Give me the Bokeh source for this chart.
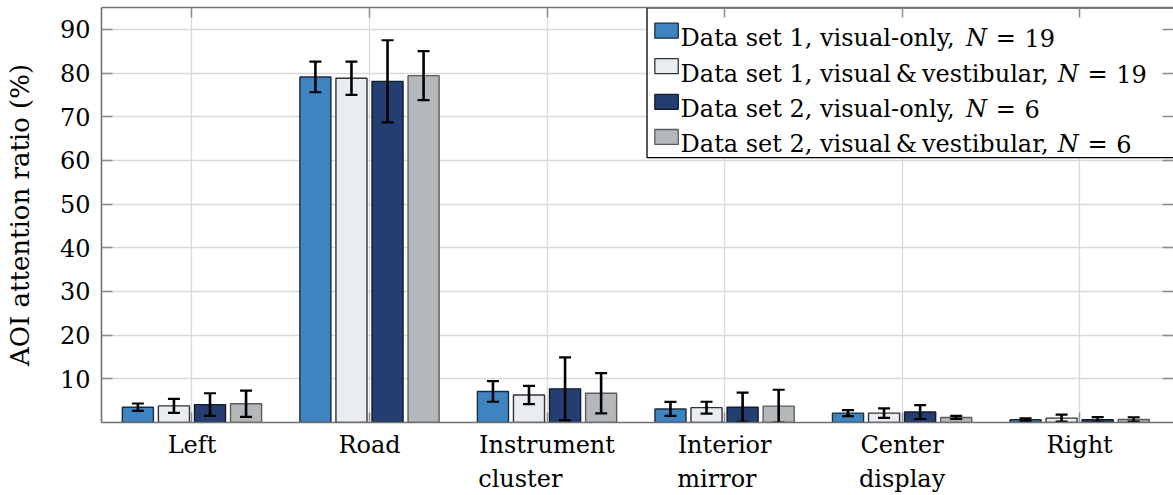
from bokeh.plotting import figure
from bokeh.models import ColumnDataSource, FixedTicker, LinearAxis, Range1d
from bokeh.transform import dodge
from bokeh.core.properties import value
from bokeh.embed import file_html
from bokeh.resources import INLINE

# ---- data -------------------------------------------------------------
categories = [["Left"], ["Road"], ["Instrument", "cluster"],
              ["Interior", "mirror"], ["Center", "display"], ["Right"]]

series_names = ["Data set 1, visual-only", "Data set 1, visual\u2009&\u2009vestibular",
                "Data set 2, visual-only", "Data set 2, visual\u2009&\u2009vestibular"]
series_n = [19, 19, 6, 6]

ds1_visual = [3.5, 79.1, 7.1, 3.1, 2.15, 0.63]
ds1_visual_err = [0.85, 3.5, 2.35, 1.6, 0.7, 0.3]
ds1_vestib = [3.8, 78.8, 6.3, 3.4, 2.15, 1.0]
ds1_vestib_err = [1.6, 3.8, 2.1, 1.35, 1.1, 0.8]
ds2_visual = [4.1, 78.1, 7.7, 3.5, 2.4, 0.63]
ds2_visual_err = [2.6, 9.4, 7.2, 3.35, 1.6, 0.6]
ds2_vestib = [4.3, 79.4, 6.7, 3.75, 1.15, 0.7]
ds2_vestib_err = [3.0, 5.6, 4.6, 3.75, 0.35, 0.5]

y_ticks = [10, 20, 30, 40, 50, 60, 70, 80, 90]

means = [ds1_visual, ds1_vestib, ds2_visual, ds2_vestib]
errs = [ds1_visual_err, ds1_vestib_err, ds2_visual_err, ds2_vestib_err]

# ---- styling ----------------------------------------------------------
fills = ["#3d84c0", "#e9edf2", "#243e72", "#b5b8bb"]
edges = ["#1c2c3c", "#333333", "#141c2c", "#5c5c5c"]
FONT = "DejaVu Serif"
FS = 24

W, H = 1173, 495
B_LEFT, B_TOP, B_BOTTOM = 101, 7, 72
FRAME_RIGHT = W - 2
CAT_PX = 177.2          # pixels between neighbouring categories
FIRST_CAT_PX = 191.3    # screen x of the first category
Y_MAX = 95

x_start = -(FIRST_CAT_PX - B_LEFT) / CAT_PX
x_end = x_start + (FRAME_RIGHT - B_LEFT) / CAT_PX
px_per_y = (H - B_BOTTOM - B_TOP) / Y_MAX


def sx(px):
    return x_start + (px - B_LEFT) / CAT_PX


def sy(py):
    return (H - B_BOTTOM - py) / px_per_y


# approximate advance widths of DejaVu Serif (em units)
NBSP = "\u00a0"
_W = {" ": .318, NBSP: .318, ",": .318, "-": .338, "&": .890, "=": .838,
      "\u2009": .16,
      "0": .636, "1": .636, "2": .636, "3": .636, "4": .636, "5": .636,
      "6": .636, "7": .636, "8": .636, "9": .636,
      "C": .765, "D": .802, "I": .395, "L": .664, "N": .875, "R": .753,
      "a": .596, "b": .640, "c": .560, "d": .640, "e": .592, "f": .370,
      "g": .640, "h": .644, "i": .320, "l": .320, "m": .948, "n": .644,
      "o": .602, "p": .640, "r": .478, "s": .513, "t": .402, "u": .644,
      "v": .565, "y": .565}


def text_w(s, size=FS):
    return sum(_W.get(ch, .6) for ch in s) * size


def block_label(lines):
    """Join lines so that they start at the same x inside a centred block."""
    widest = max(text_w(s) for s in lines)
    out = []
    for s in lines:
        pad = round((widest - text_w(s)) / text_w(NBSP))
        out.append(s + NBSP * pad)
    return "\n".join(out)


# ---- figure -----------------------------------------------------------
p = figure(width=W, height=H, x_range=Range1d(x_start, x_end),
           y_range=Range1d(0, Y_MAX), output_backend="svg",
           toolbar_location=None, min_border_left=B_LEFT, min_border_right=0,
           min_border_top=B_TOP, min_border_bottom=B_BOTTOM)
p.outline_line_color = None
p.background_fill_color = "white"
p.border_fill_color = "white"

cat_ticks = list(range(len(categories)))
GRID = "#d9d9d9"
AXIS = "#707070"
TICK = "#8c8c8c"

p.xgrid.ticker = FixedTicker(ticks=cat_ticks)
p.ygrid.ticker = FixedTicker(ticks=y_ticks)
for g in (p.xgrid[0], p.ygrid[0]):
    g.grid_line_color = GRID
    g.grid_line_width = 1.3

# left axis with labels
ya = p.yaxis[0]
ya.ticker = FixedTicker(ticks=y_ticks)
ya.axis_line_color = AXIS
ya.axis_line_width = 1.6
ya.major_tick_in = 11
ya.major_tick_out = 0
ya.major_tick_line_color = TICK
ya.major_tick_line_width = 1.5
ya.minor_tick_line_color = None
ya.major_label_text_font = FONT
ya.major_label_text_font_size = f"{FS}px"
ya.major_label_text_color = "black"
ya.major_label_standoff = 11
ya.axis_label = "AOI attention ratio (%)"
ya.axis_label_text_font = FONT
ya.axis_label_text_font_size = "26px"
ya.axis_label_text_font_style = "normal"
ya.axis_label_text_color = "black"
ya.axis_label_standoff = 22

# bottom axis: category names, two-line where needed
xa = p.xaxis[0]
xa.ticker = FixedTicker(ticks=cat_ticks)
xa.major_label_overrides = {i: block_label(c) for i, c in enumerate(categories)}
xa.axis_line_color = AXIS
xa.axis_line_width = 1.6
xa.major_tick_in = 10
xa.major_tick_out = 0
xa.major_tick_line_color = TICK
xa.major_tick_line_width = 1.5
xa.minor_tick_line_color = None
xa.major_label_text_font = FONT
xa.major_label_text_font_size = f"{FS}px"
xa.major_label_text_color = "black"
xa.major_label_text_line_height = 1.22
xa.major_label_standoff = 8

# top and right frame sides with inward ticks
top = LinearAxis(ticker=FixedTicker(ticks=cat_ticks), axis_line_color=AXIS,
                 axis_line_width=1.6, major_tick_in=10, major_tick_out=0,
                 major_tick_line_color=TICK, major_tick_line_width=1.5,
                 minor_tick_line_color=None, major_label_text_color=None,
                 major_label_text_font_size="1px", major_label_standoff=0)
p.add_layout(top, "above")
right = LinearAxis(ticker=FixedTicker(ticks=y_ticks), axis_line_color=None,
                   major_tick_in=11, major_tick_out=0,
                   major_tick_line_color=TICK, major_tick_line_width=1.5,
                   minor_tick_line_color=None, major_label_text_color=None,
                   major_label_text_font_size="1px", major_label_standoff=0)
p.add_layout(right, "right")

# ---- bars and error bars ---------------------------------------------
offsets = [-0.3047, -0.1016, 0.1016, 0.3047]
bar_w = 0.175

data = {"x": cat_ticks}
for i, (m, e) in enumerate(zip(means, errs)):
    data[f"m{i}"] = m
    data[f"lo{i}"] = [a - b for a, b in zip(m, e)]
    data[f"hi{i}"] = [a + b for a, b in zip(m, e)]
src = ColumnDataSource(data)

for i in range(4):
    xd = dodge("x", offsets[i])
    p.vbar(x=xd, top=f"m{i}", bottom=0, width=bar_w, source=src,
           fill_color=fills[i], line_color=edges[i], line_width=1.4)
for i in range(4):
    xd = dodge("x", offsets[i])
    p.segment(x0=xd, y0=f"lo{i}", x1=xd, y1=f"hi{i}", source=src,
              line_color="black", line_width=2.6)
    for end in ("lo", "hi"):
        p.scatter(x=xd, y=f"{end}{i}", source=src, marker="dash", size=12,
                  line_color="black", line_width=2.2)

# ---- legend -----------------------------------------------------------
LG_LEFT, LG_TOP, LG_BOTTOM = 645.5, 7.3, 157.5
p.quad(left=sx(LG_LEFT), right=sx(W + 20), top=sy(LG_TOP), bottom=sy(LG_BOTTOM),
       fill_color="white", line_color="black", line_width=1.3)

row_base = [37.7, 73.3, 109.0, 144.3]
SW_L, SW_R, SW_H = 653.3, 676.7, 15
TX = 679.0
GAP = 0.36 * FS     # space around the equals sign
common = dict(text_font=value(FONT), text_font_size=f"{FS}px",
              text_color="black", text_baseline="alphabetic", text_align="left")
for i in range(4):
    b = row_base[i]
    p.quad(left=sx(SW_L), right=sx(SW_R), top=sy(b - SW_H), bottom=sy(b),
           fill_color=fills[i], line_color=edges[i], line_width=1.3)
    prefix = series_names[i] + ","
    x_n = TX + text_w(prefix) + text_w(" ")
    x_eq = x_n + text_w("N") + GAP
    x_num = x_eq + text_w("=") + GAP
    p.text(x=[sx(TX)], y=[sy(b)], text=[prefix], **common)
    p.text(x=[sx(x_n)], y=[sy(b)], text=["N"], text_font_style="italic", **common)
    p.text(x=[sx(x_eq)], y=[sy(b)], text=["="], **common)
    p.text(x=[sx(x_num)], y=[sy(b)], text=[str(series_n[i])], **common)

open("out.html", "w").write(file_html(p, INLINE))
